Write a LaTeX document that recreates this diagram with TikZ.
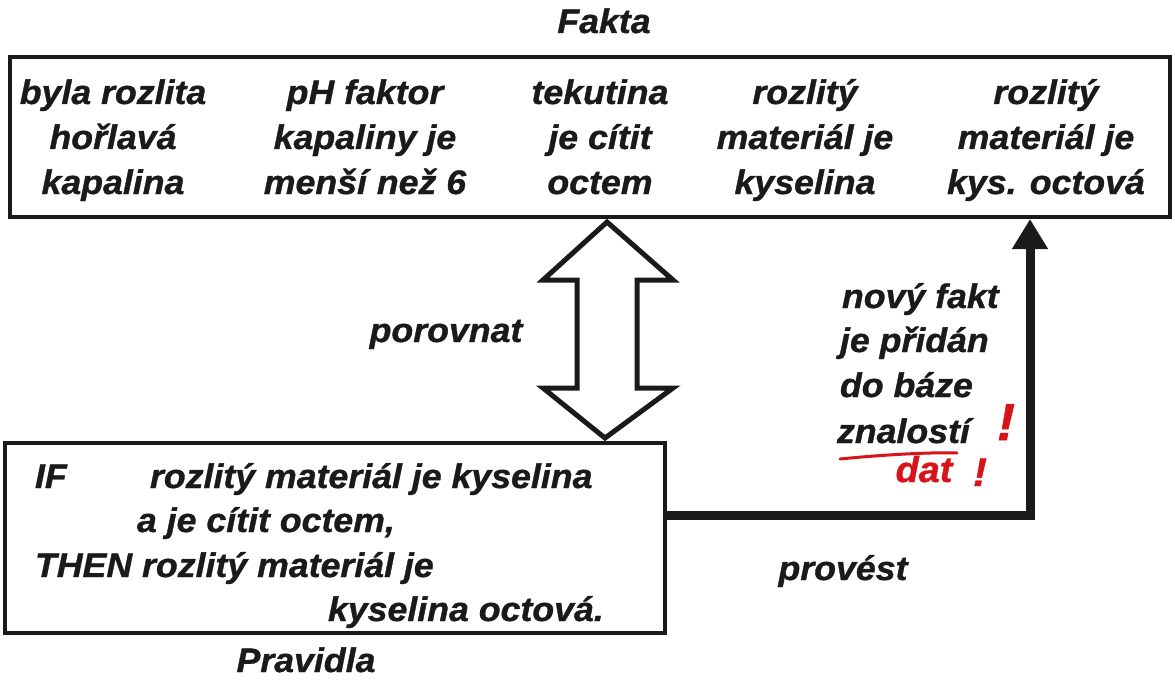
\documentclass[tikz,border=0pt]{standalone}
\usepackage{fontspec}
\setmainfont{Liberation Sans}[FakeStretch=1.05,FakeBold=1]
\usetikzlibrary{arrows.meta,calc}
\definecolor{ink}{HTML}{1A1A1A}
\definecolor{pen}{HTML}{D8141B}
\begin{document}
\begin{tikzpicture}[x=1pt,y=-1pt,
  txt/.style={font=\fontsize{34}{45}\selectfont\bfseries\itshape, text=ink, inner sep=0pt, outer sep=0pt},
  ctr/.style={txt, anchor=base},
  lft/.style={txt, anchor=base west},
  panel/.style={draw=ink, line width=4pt, fill=white, inner sep=0pt, outer sep=0pt, anchor=north west},
  fatarrow/.style={draw=ink, line width=5pt, fill=white, line join=miter},
  flow/.style={draw=ink, line width=9pt, -{Triangle[length=30pt,width=34pt]}},
  redpen/.style={text=pen, inner sep=0pt, anchor=base}
]
\useasboundingbox (0,0) rectangle (1175,682);
\fill[white] (0,0) rectangle (1175,682);

% compare: hollow double arrow between facts and rules
\draw[fatarrow] (607,222) -- (673,280) -- (637,280) -- (637,388) -- (673,388)
  -- (605,438) -- (543,388) -- (577,388) -- (577,280) -- (543,280) -- cycle;

% knowledge boxes
\node[panel, minimum width=1160pt, minimum height=160pt] (facts) at (10,57) {};
\node[panel, minimum width=660pt, minimum height=190pt] (rules) at (5,443) {};

% fire the rule: new fact goes back into the facts
\draw[flow] ($(rules.north east)+(0,72)$) -| ($(facts.south west)+(1020,2)$);

% titles and labels
\node[ctr] (ttlfacts) at (604,33) {Fakta};
\node[ctr] (ttlrules) at (306,672) {Pravidla};
\node[ctr] (cmp) at (446,342) {porovnat};
\node[ctr] (exec) at (843,580) {provést};

% facts
\node[ctr] (f11) at (113,104) {byla rozlita};
\node[ctr] (f12) at (113,149) {hořlavá};
\node[ctr] (f13) at (113,194) {kapalina};
\node[ctr] (f21) at (365,104) {pH faktor};
\node[ctr] (f22) at (365,149) {kapaliny je};
\node[ctr] (f23) at (365,194) {menší než 6};
\node[ctr] (f31) at (600,104) {tekutina};
\node[ctr] (f32) at (600,149) {je cítit};
\node[ctr] (f33) at (600,194) {octem};
\node[ctr] (f41) at (805,104) {rozlitý};
\node[ctr] (f42) at (805,149) {materiál je};
\node[ctr] (f43) at (805,194) {kyselina};
\node[ctr] (f51) at (1046,104) {rozlitý};
\node[ctr] (f52) at (1046,149) {materiál je};
\node[ctr] (f53) at (1046,194) {kys. octová};

% rule
\node[lft] (rif) at (35,488) {IF};
\node[lft] (r1) at (150,488) {rozlitý materiál je kyselina};
\node[lft] (r2) at (137,532) {a je cítit octem,};
\node[lft] (r3) at (35,577) {THEN rozlitý materiál je};
\node[lft] (r4) at (328,621) {kyselina octová.};

% new fact note
\node[lft] (n1) at (842,308) {nový fakt};
\node[lft] (n2) at (840,352) {je přidán};
\node[lft] (n3) at (840,397) {do báze};
\node[lft] (n4) at (837,443) {znalostí};

% red pen correction
\draw[pen, line width=3pt, line cap=round] (840,459) .. controls (880,455) and (930,452) .. (957,453);
\node[redpen, font=\fontsize{36}{36}\selectfont\itshape\bfseries] (dat) at (924,482) {dat};
\node[redpen, font=\fontsize{52}{52}\selectfont\itshape\bfseries] (bang1) at (1006,440) {!};
\node[redpen, font=\fontsize{40}{40}\selectfont\itshape\bfseries] (bang2) at (980,486) {!};
\end{tikzpicture}
\end{document}
